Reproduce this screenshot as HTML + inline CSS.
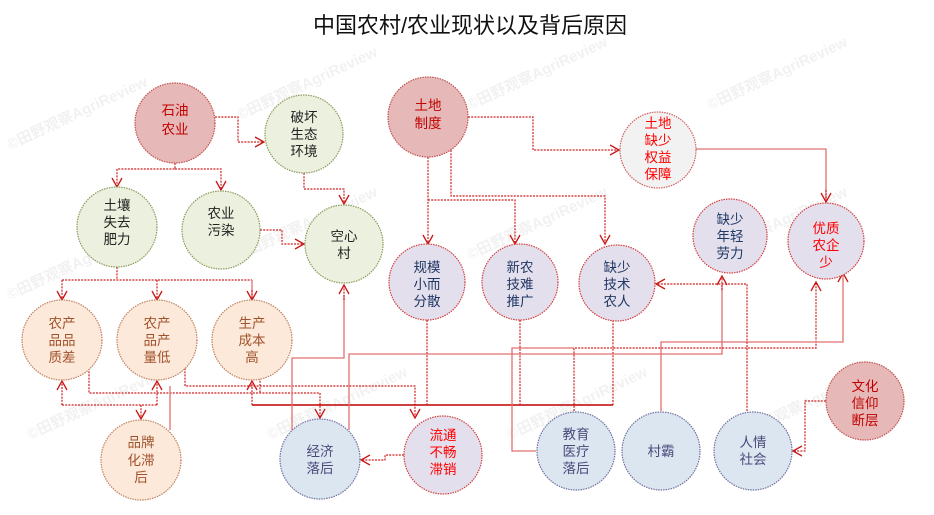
<!DOCTYPE html>
<html><head><meta charset="utf-8"><style>
html,body{margin:0;padding:0;background:#fff;width:934px;height:515px;overflow:hidden;}
svg{display:block;font-family:"Liberation Sans","Noto Sans CJK SC",sans-serif;}
.e{fill:none;stroke:#d02020;stroke-width:1.2;stroke-dasharray:2 1.2;}
.s{fill:none;stroke:#e07070;stroke-width:1.3;}
.t{font-size:13.5px;text-anchor:middle;}
.wm{font-size:15px;fill:#000;opacity:0.05;font-weight:bold;}
</style></head><body>
<svg width="934" height="515" viewBox="0 0 934 515" overflow="hidden">
<defs>
<marker id="a" markerWidth="12" markerHeight="12" refX="10" refY="6" orient="auto" markerUnits="userSpaceOnUse">
<path d="M1,1 L10,6 L1,11" fill="none" stroke="#c81818" stroke-width="1.3"/></marker>
</defs>
<text class="wm" x="10" y="150" transform="rotate(-25 10 150)">©田野观察AgriReview</text>
<text class="wm" x="240" y="120" transform="rotate(-25 240 120)">©田野观察AgriReview</text>
<text class="wm" x="470" y="110" transform="rotate(-25 470 110)">©田野观察AgriReview</text>
<text class="wm" x="710" y="110" transform="rotate(-25 710 110)">©田野观察AgriReview</text>
<text class="wm" x="10" y="300" transform="rotate(-25 10 300)">©田野观察AgriReview</text>
<text class="wm" x="240" y="260" transform="rotate(-25 240 260)">©田野观察AgriReview</text>
<text class="wm" x="470" y="260" transform="rotate(-25 470 260)">©田野观察AgriReview</text>
<text class="wm" x="710" y="260" transform="rotate(-25 710 260)">©田野观察AgriReview</text>
<text class="wm" x="30" y="440" transform="rotate(-25 30 440)">©田野观察AgriReview</text>
<text class="wm" x="270" y="440" transform="rotate(-25 270 440)">©田野观察AgriReview</text>
<text class="wm" x="510" y="440" transform="rotate(-25 510 440)">©田野观察AgriReview</text>
<text class="wm" x="740" y="440" transform="rotate(-25 740 440)">©田野观察AgriReview</text>
<text x="470" y="33" font-size="22" text-anchor="middle" fill="#111">中国农村/农业现状以及背后原因</text>

<polyline class="e" points="215,117 238,117 238,142 264,142" marker-end="url(#a)"/>
<polyline class="e" points="175,163 175,169 117,169 117,187" marker-end="url(#a)"/>
<polyline class="e" points="175,169 221,169 221,190" marker-end="url(#a)"/>
<polyline class="e" points="260,230 282,230 282,244 304,244" marker-end="url(#a)"/>
<polyline class="e" points="304,173 304,189 344,189 344,204" marker-end="url(#a)"/>
<polyline class="e" points="117,267 117,280"/>
<polyline class="e" points="62,280 252,280"/>
<polyline class="e" points="62,280 62,300" marker-end="url(#a)"/>
<polyline class="e" points="157,280 157,300" marker-end="url(#a)"/>
<polyline class="s" points="252,280 252,300"/>
<polyline class="e" points="252,290 252,300" marker-end="url(#a)"/>
<polyline class="e" points="468,117 533,117 533,150 619,150" marker-end="url(#a)"/>
<polyline class="e" points="428,157 428,244" marker-end="url(#a)"/>
<polyline class="e" points="428,200 515,200 515,244" marker-end="url(#a)"/>
<polyline class="e" points="451,150 451,196 605,196 605,244" marker-end="url(#a)"/>
<polyline class="s" points="696,149 800,149 826,149 826,201"/>
<polyline class="e" points="826,190 826,202" marker-end="url(#a)"/>
<polyline class="e" points="89,368 89,393 320,393 320,418" marker-end="url(#a)"/>
<polyline class="e" points="185,368 185,386 415,386 415,418" marker-end="url(#a)"/>
<polyline class="e" points="260,368 260,393"/>
<line x1="252" y1="405" x2="613" y2="405" stroke="#c00000" stroke-width="1.6"/>
<polyline class="e" points="252,405 252,381" marker-end="url(#a)"/>
<polyline class="e" points="62,405 157,405"/>
<polyline class="e" points="62,405 62,381" marker-end="url(#a)"/>
<polyline class="e" points="157,405 157,381" marker-end="url(#a)"/>
<polyline class="e" points="141,405 141,419" marker-end="url(#a)"/>
<polyline class="s" points="170,430 170,386"/>
<polyline class="e" points="427,320 427,405"/>
<polyline class="e" points="520,320 520,405"/>
<polyline class="e" points="613,320 613,405"/>
<polyline class="s" points="292,430 292,358 344,358 344,295"/>
<polyline class="e" points="344,300 344,285" marker-end="url(#a)"/>
<polyline class="s" points="349,430 349,354 722,354 722,285"/>
<polyline class="e" points="722,290 722,276" marker-end="url(#a)"/>
<polyline class="s" points="536,451 512,451 512,348 574,348"/>
<polyline class="e" points="574,411 574,348 816,348 816,282" marker-end="url(#a)"/>
<polyline class="s" points="661,411 661,342 843,342 843,273" marker-end="url(#a)"/>
<polyline class="e" points="747,411 747,284 656,284" marker-end="url(#a)"/>
<polyline class="e" points="404,455 385,455 385,460 361,460" marker-end="url(#a)"/>
<polyline class="e" points="826,401 805,401 805,451 793,451" marker-end="url(#a)"/>

<g stroke-width="1.2" stroke-dasharray="1.5 1">
<circle cx="175" cy="123" r="40" fill="#e6b8b7" stroke="#c0504d"/>
<circle cx="428" cy="117" r="40" fill="#e6b8b7" stroke="#c0504d"/>
<circle cx="865" cy="401" r="39" fill="#e6b8b7" stroke="#c0504d"/>
<circle cx="304" cy="134" r="39" fill="#ebf1de" stroke="#8a9a5b"/>
<circle cx="117" cy="227" r="40" fill="#ebf1de" stroke="#8a9a5b"/>
<circle cx="221" cy="230" r="39" fill="#ebf1de" stroke="#8a9a5b"/>
<circle cx="344" cy="244" r="39" fill="#ebf1de" stroke="#8a9a5b"/>
<circle cx="658" cy="150" r="38" fill="#f2f2f2" stroke="#d06060"/>
<circle cx="427" cy="282" r="38" fill="#e4dfec" stroke="#d04040"/>
<circle cx="520" cy="282" r="38" fill="#e4dfec" stroke="#d04040"/>
<circle cx="617" cy="283" r="38" fill="#e4dfec" stroke="#d04040"/>
<circle cx="730" cy="236" r="37" fill="#e4dfec" stroke="#d04040"/>
<circle cx="826" cy="241" r="38" fill="#e4dfec" stroke="#d04040"/>
<circle cx="443" cy="455" r="39" fill="#e4dfec" stroke="#d04040"/>
<circle cx="62" cy="340" r="40" fill="#fde9d9" stroke="#c08060"/>
<circle cx="157" cy="340" r="40" fill="#fde9d9" stroke="#c08060"/>
<circle cx="252" cy="340" r="40" fill="#fde9d9" stroke="#c08060"/>
<circle cx="141" cy="460" r="40" fill="#fde9d9" stroke="#c08060"/>
<circle cx="320" cy="459" r="40" fill="#dce6f1" stroke="#7070a0"/>
<circle cx="576" cy="451" r="39" fill="#dce6f1" stroke="#7070a0"/>
<circle cx="661" cy="451" r="39" fill="#dce6f1" stroke="#7070a0"/>
<circle cx="753" cy="451" r="39" fill="#dce6f1" stroke="#7070a0"/>
</g>

<g class="t">
<text fill="#c00000"><tspan x="175" y="115">石油</tspan><tspan x="175" y="134">农业</tspan></text>
<text fill="#c00000"><tspan x="428" y="110">土地</tspan><tspan x="428" y="128">制度</tspan></text>
<text fill="#c00000"><tspan x="865" y="391">文化</tspan><tspan x="865" y="408">信仰</tspan><tspan x="865" y="425">断层</tspan></text>
<text fill="#222"><tspan x="304" y="122">破坏</tspan><tspan x="304" y="139">生态</tspan><tspan x="304" y="156">环境</tspan></text>
<text fill="#222"><tspan x="117" y="210">土壤</tspan><tspan x="117" y="227">失去</tspan><tspan x="117" y="244">肥力</tspan></text>
<text fill="#222"><tspan x="221" y="218">农业</tspan><tspan x="221" y="235">污染</tspan></text>
<text fill="#222"><tspan x="344" y="241">空心</tspan><tspan x="344" y="258">村</tspan></text>
<text fill="#ff0000"><tspan x="658" y="128">土地</tspan><tspan x="658" y="145">缺少</tspan><tspan x="658" y="162">权益</tspan><tspan x="658" y="179">保障</tspan></text>
<text fill="#1f3864"><tspan x="427" y="272">规模</tspan><tspan x="427" y="289">小而</tspan><tspan x="427" y="306">分散</tspan></text>
<text fill="#1f3864"><tspan x="520" y="272">新农</tspan><tspan x="520" y="289">技难</tspan><tspan x="520" y="306">推广</tspan></text>
<text fill="#1f3864"><tspan x="617" y="272">缺少</tspan><tspan x="617" y="289">技术</tspan><tspan x="617" y="306">农人</tspan></text>
<text fill="#1f3864"><tspan x="730" y="224">缺少</tspan><tspan x="730" y="241">年轻</tspan><tspan x="730" y="258">劳力</tspan></text>
<text fill="#ff0000"><tspan x="826" y="233">优质</tspan><tspan x="826" y="250">农企</tspan><tspan x="826" y="267">少</tspan></text>
<text fill="#ff0000"><tspan x="443" y="440">流通</tspan><tspan x="443" y="457">不畅</tspan><tspan x="443" y="474">滞销</tspan></text>
<text fill="#a0522d"><tspan x="62" y="328">农产</tspan><tspan x="62" y="345">品品</tspan><tspan x="62" y="362">质差</tspan></text>
<text fill="#a0522d"><tspan x="157" y="328">农产</tspan><tspan x="157" y="345">品产</tspan><tspan x="157" y="362">量低</tspan></text>
<text fill="#a0522d"><tspan x="252" y="328">生产</tspan><tspan x="252" y="345">成本</tspan><tspan x="252" y="362">高</tspan></text>
<text fill="#a0522d"><tspan x="141" y="447">品牌</tspan><tspan x="141" y="465">化滞</tspan><tspan x="141" y="482">后</tspan></text>
<text fill="#4a4a7a"><tspan x="320" y="456">经济</tspan><tspan x="320" y="473">落后</tspan></text>
<text fill="#4a4a7a"><tspan x="576" y="439">教育</tspan><tspan x="576" y="456">医疗</tspan><tspan x="576" y="473">落后</tspan></text>
<text fill="#4a4a7a"><tspan x="661" y="456">村霸</tspan></text>
<text fill="#4a4a7a"><tspan x="753" y="447">人情</tspan><tspan x="753" y="464">社会</tspan></text>
</g>
</svg>
</body></html>
